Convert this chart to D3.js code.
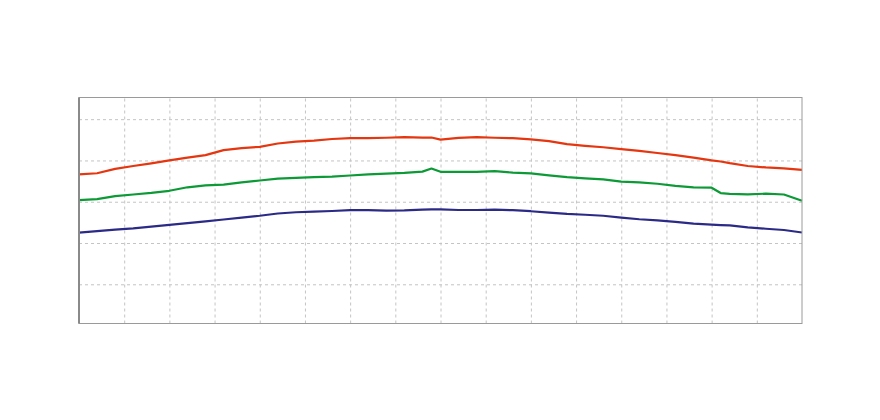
<!DOCTYPE html>
<html>
<head>
<meta charset="utf-8">
<script src="https://cdn.jsdelivr.net/npm/d3@7"></script>
<style>
  body { margin: 0; background: #fff; }
  .grid line { stroke: #c4c4c4; stroke-dasharray: 3,3; }
  .grid path { display: none; }
</style>
</head>
<body>
<svg id="main-chart-svg" width="880" height="420"></svg>
<script>
// shared x positions (grid every 10)
let xValues = [0, 4, 8, 12, 16, 20, 24, 28, 32, 36, 40, 44, 48, 52, 56, 60, 64, 68, 72, 76, 78,
  80, 84, 88, 92, 96, 100, 104, 108, 112, 116, 120, 124, 128, 132, 136, 140, 142,
  144, 148, 152, 156, 160];

let redValues = [73.3, 73.8, 75.9, 77.3, 78.6, 80.0, 81.4, 82.6, 85.0, 86.0, 86.6, 88.2, 89.1, 89.6, 90.4, 90.8, 90.8, 91.0, 91.3, 91.1, 91.1,
  90.1, 90.9, 91.3, 91.0, 90.8, 90.2, 89.4, 87.9, 87.1, 86.4, 85.5, 84.6, 83.6, 82.6, 81.4, 80.0, 79.5,
  78.7, 77.3, 76.6, 76.2, 75.4];

let greenValues = [60.8, 61.3, 62.7, 63.5, 64.3, 65.3, 67.0, 67.9, 68.3, 69.4, 70.3, 71.2, 71.6, 71.9, 72.2, 72.7, 73.3, 73.6, 74.0, 74.6, 76.1,
  74.5, 74.5, 74.5, 74.8, 74.1, 73.7, 72.8, 71.9, 71.3, 70.8, 69.7, 69.4, 68.7, 67.7, 67.0, 66.8, 64.2,
  63.8, 63.6, 63.9, 63.5, 60.5];

let blueValues = [45.0, 45.8, 46.5, 47.1, 47.9, 48.8, 49.6, 50.5, 51.4, 52.3, 53.2, 54.3, 54.9, 55.2, 55.5, 55.9, 55.9, 55.7, 55.8, 56.2, 56.3,
  56.3, 56.0, 56.0, 56.2, 55.9, 55.4, 54.7, 54.1, 53.7, 53.2, 52.3, 51.5, 51.0, 50.2, 49.4, 48.9, 48.7,
  48.5, 47.6, 46.9, 46.3, 45.1];

let xTicks = [10, 20, 30, 40, 50, 60, 70, 80, 90, 100, 110, 120, 130, 140, 150];
let yTicks = [20, 40, 60, 80, 100];

let seriesList = [
  { values: redValues, color: "#e5360f" },
  { values: greenValues, color: "#0c9a36" },
  { values: blueValues, color: "#2c2a87" }
];

let svg = d3.select("#main-chart-svg");
let margin = { top: 97.5, right: 78, bottom: 96.5, left: 79 };
let width = 880 - margin.left - margin.right;
let height = 420 - margin.top - margin.bottom;

let g = svg.append("g")
  .attr("transform", "translate(" + margin.left + "," + margin.top + ")");

let xScale = d3.scaleLinear().domain([0, 160]).range([0, width]);
let yScale = d3.scaleLinear().domain([1, 110.5]).range([height, 0]);

// grid lines from axes with no labels
g.append("g")
  .attr("class", "grid")
  .attr("transform", "translate(0," + height + ")")
  .call(d3.axisBottom(xScale).tickValues(xTicks).tickSize(-height).tickFormat(""));

g.append("g")
  .attr("class", "grid")
  .call(d3.axisLeft(yScale).tickValues(yTicks).tickSize(-width).tickFormat(""));

let line = d3.line()
  .x((d, i) => xScale(xValues[i]))
  .y(d => yScale(d));

seriesList.forEach(s => {
  g.append("path")
    .datum(s.values)
    .attr("fill", "none")
    .attr("stroke", s.color)
    .attr("stroke-width", 2.2)
    .attr("stroke-linejoin", "round")
    .attr("d", line);
});

// frame
g.append("rect")
  .attr("width", width)
  .attr("height", height)
  .attr("fill", "none")
  .attr("stroke", "#9a9a9a")
  .attr("stroke-width", 1);

g.append("line")
  .attr("x1", 0).attr("x2", 0)
  .attr("y1", 0).attr("y2", height)
  .attr("stroke", "#8a8a8a")
  .attr("stroke-width", 2);
</script>
</body>
</html>
